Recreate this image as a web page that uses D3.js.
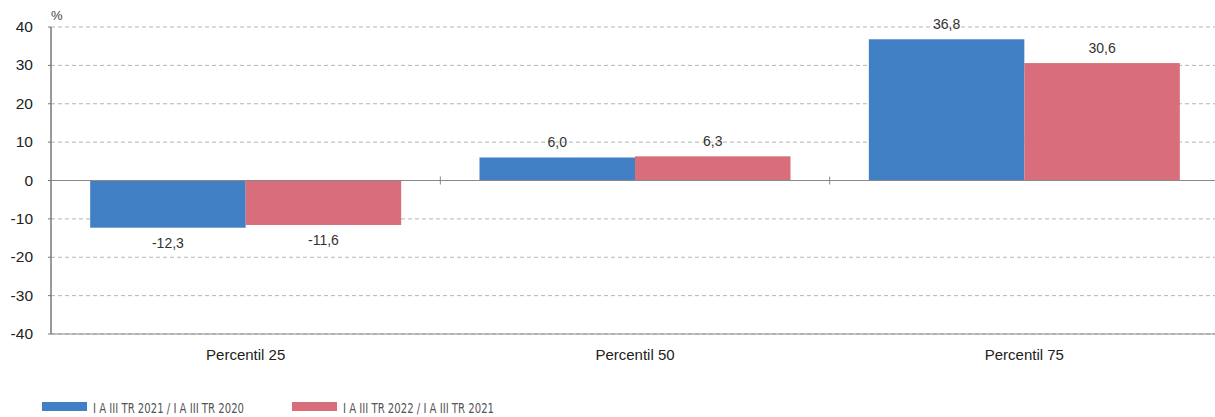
<!DOCTYPE html>
<html><head><meta charset="utf-8">
<script src="https://cdn.jsdelivr.net/npm/d3@7"></script>
<style>body{margin:0;background:#fff;font-family:"Liberation Sans",Arial,sans-serif}</style>
</head><body><div id="chart"></div>
<script>
var categories = ["Percentil 25", "Percentil 50", "Percentil 75"];
var series = ["I A III TR 2021 / I A III TR 2020", "I A III TR 2022 / I A III TR 2021"];
var values2021 = [-12.3, 6.0, 36.8];
var values2022 = [-11.6, 6.3, 30.6];
var yTicks = [-40, -30, -20, -10, 0, 10, 20, 30, 40];
var colors = ["#4180c4", "#d86e7b"];

var width = 1215, height = 417;
var plotLeft = 51, plotRight = 1219, plotTop = 27, plotBottom = 334;

var svg = d3.select("#chart").append("svg").attr("width", width).attr("height", height);

var x = d3.scaleBand().domain(categories).range([plotLeft, plotRight]).paddingInner(0).paddingOuter(0);
var y = d3.scaleLinear().domain([-40, 40]).range([plotBottom, plotTop]);

// grid
svg.selectAll(".grid").data(yTicks.filter(function (t) { return t !== 0; }))
    .enter().append("line")
    .attr("x1", plotLeft).attr("x2", plotRight)
    .attr("y1", function (d) { return y(d); }).attr("y2", function (d) { return y(d); })
    .attr("stroke", "#b5b5b5").attr("stroke-dasharray", "4,3");

// y labels
svg.selectAll(".ylab").data(yTicks).enter().append("text")
    .attr("x", 33).attr("y", function (d) { return y(d) + 5; })
    .attr("text-anchor", "end").attr("font-size", "15.5px").attr("fill", "#222")
    .text(function (d) { return d; });
svg.append("text").attr("x", 51).attr("y", 20).attr("font-size", "13px").attr("fill", "#444").text("%");

var data = [values2021, values2022];
var barW = 155.5, pad = (x.bandwidth() - 2 * barW) / 2;

data.forEach(function (vals, s) {
    svg.selectAll(".bar" + s).data(vals).enter().append("rect")
        .attr("x", function (d, i) { return x(categories[i]) + pad + s * barW; })
        .attr("width", barW)
        .attr("y", function (d) { return y(Math.max(0, d)); })
        .attr("height", function (d) { return Math.abs(y(d) - y(0)); })
        .attr("fill", colors[s]);
    svg.selectAll(".lab" + s).data(vals).enter().append("text")
        .attr("x", function (d, i) { return x(categories[i]) + pad + s * barW + barW / 2; })
        .attr("y", function (d) { return d >= 0 ? y(d) - 10 : y(d) + 20; })
        .attr("text-anchor", "middle").attr("font-size", "14px").attr("fill", "#333")
        .text(function (d) { return d.toFixed(1).replace(".", ","); });
});

// axes
svg.append("line").attr("x1", plotLeft).attr("x2", plotRight).attr("y1", y(0)).attr("y2", y(0)).attr("stroke", "#888");
svg.append("line").attr("x1", plotLeft).attr("x2", plotRight).attr("y1", plotBottom).attr("y2", plotBottom).attr("stroke", "#888");
svg.append("line").attr("x1", plotLeft).attr("x2", plotLeft).attr("y1", plotTop).attr("y2", plotBottom).attr("stroke", "#777").attr("stroke-width", 1.5);
yTicks.forEach(function (t) {
    svg.append("line").attr("x1", plotLeft - 3).attr("x2", plotLeft).attr("y1", y(t)).attr("y2", y(t)).attr("stroke", "#777");
});
categories.slice(1).forEach(function (c) {
    svg.append("line").attr("x1", x(c)).attr("x2", x(c)).attr("y1", y(0) - 4).attr("y2", y(0) + 4).attr("stroke", "#888");
});

svg.selectAll(".xlab").data(categories).enter().append("text")
    .attr("x", function (d) { return x(d) + x.bandwidth() / 2; })
    .attr("y", 360).attr("text-anchor", "middle").attr("font-size", "15px").attr("fill", "#222")
    .text(function (d) { return d; });

// legend
var legX = [42, 292];
series.forEach(function (name, i) {
    svg.append("rect").attr("x", legX[i]).attr("y", 402).attr("width", 45).attr("height", 9).attr("fill", colors[i]);
    svg.append("text").attr("x", legX[i] + 51).attr("y", 413)
        .attr("font-family", "'DejaVu Sans Condensed','DejaVu Sans',sans-serif").attr("font-stretch", "condensed")
        .attr("font-size", "14px").attr("fill", "#555").attr("textLength", 151).attr("lengthAdjust", "spacingAndGlyphs").text(name);
});
</script></body></html>
